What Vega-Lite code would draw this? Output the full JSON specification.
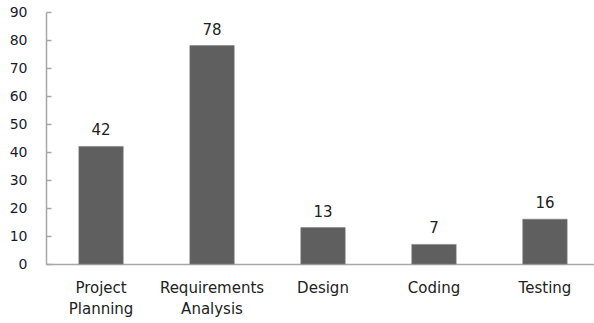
{
  "$schema": "https://vega.github.io/schema/vega-lite/v6.json",
  "autosize": "none",
  "width": 554,
  "height": 252,
  "padding": {"left": 46, "top": 12, "right": 0, "bottom": 59},
  "background": "white",
  "config": {
    "view": {"stroke": null},
    "font": "DejaVu Sans"
  },
  "data": {
    "values": [
      {"phase": "Project Planning", "value": 42},
      {"phase": "Requirements Analysis", "value": 78},
      {"phase": "Design", "value": 13},
      {"phase": "Coding", "value": 7},
      {"phase": "Testing", "value": 16}
    ]
  },
  "encoding": {
    "x": {
      "field": "phase", "type": "nominal", "sort": null,
      "scale": {"paddingInner": 0.6, "paddingOuter": 0.296},
      "axis": {
        "title": null, "labelAngle": 0, "ticks": false,
        "domainColor": "#a6a6a6", "domainWidth": 1.5,
        "labelExpr": "split(datum.label, ' ')",
        "labelFont": "DejaVu Sans", "labelFontSize": 15, "labelColor": "#222222",
        "labelPadding": 16, "labelLineHeight": 21, "labelBaseline": "top"
      }
    },
    "y": {
      "field": "value", "type": "quantitative",
      "scale": {"domain": [0, 90], "nice": false},
      "axis": {
        "title": null, "grid": false, "values": [0,10,20,30,40,50,60,70,80,90],
        "domainColor": "#a6a6a6", "domainWidth": 1.5,
        "tickColor": "#a6a6a6", "tickSize": -5, "tickWidth": 1.5,
        "labelFont": "DejaVu Sans", "labelFontSize": 14, "labelColor": "#1a1a2e",
        "labelPadding": 24
      }
    }
  },
  "layer": [
    {"mark": {"type": "bar", "color": "#5f5f5f", "stroke": "#808080", "strokeWidth": 0.6}},
    {
      "mark": {"type": "text", "dy": -16, "fontSize": 15, "font": "DejaVu Sans", "color": "#222222"},
      "encoding": {"text": {"field": "value", "type": "quantitative"}}
    }
  ]
}
